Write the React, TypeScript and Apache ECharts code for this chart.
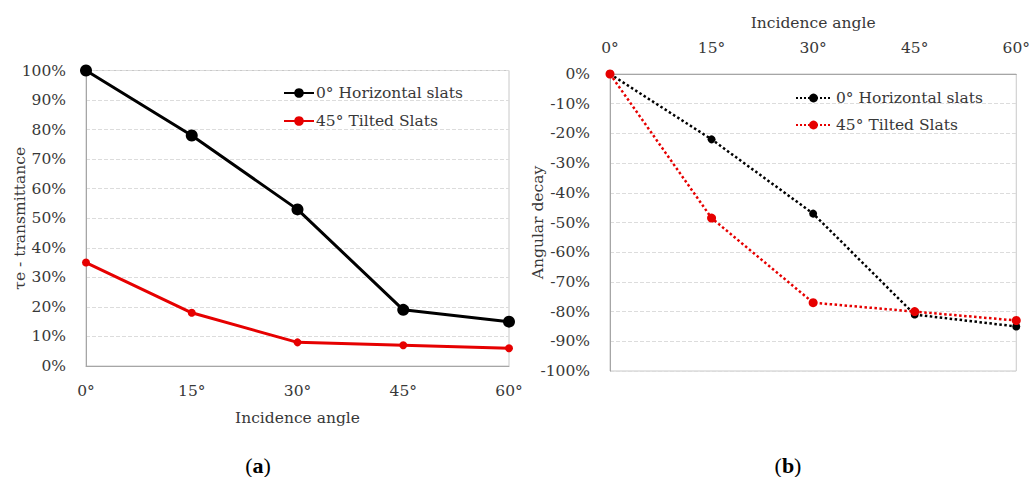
import React, { useEffect, useRef } from "react";
import * as echarts from "echarts";

const angles = ["0°", "15°", "30°", "45°", "60°"];
const seriesNames = ["0° Horizontal slats", "45° Tilted Slats"];
const transHorizontal = [100, 78, 53, 19, 15];
const transTilted = [35, 18, 8, 7, 6];
const decayHorizontal = [0, -22, -47, -81, -85];
const decayTilted = [0, -48.5, -77, -80, -83];

const FONT = "DejaVu Serif";
const TXT = "#383838";
const FS = 15.5;

export default function App() {
  const ref = useRef<HTMLDivElement>(null);
  useEffect(() => {
    document.body.style.margin = "0";
    const chart = echarts.init(ref.current!, null, { renderer: "svg" });
    const gridLine = { show: true, lineStyle: { color: "#dcdcdc", type: "dashed" as const, width: 1 } };
    const axisLine = { show: true, lineStyle: { color: "#a6a6a6", width: 1 } };
    const label = { color: TXT, fontFamily: FONT, fontSize: FS };
    const nameStyle = { color: TXT, fontFamily: FONT, fontSize: FS };
    chart.setOption({
      animation: false,
      textStyle: { fontFamily: FONT },
      grid: [
        { left: 86, right: 524, top: 70.5, bottom: 111, show: true, borderColor: "#c8c8c8", borderWidth: 1, containLabel: false },
        { left: 610, right: 14, top: 74, bottom: 106, show: true, borderColor: "#c8c8c8", borderWidth: 1, containLabel: false },
      ],
      xAxis: [
        {
          type: "category", gridIndex: 0, data: angles, boundaryGap: false,
          axisLine, axisTick: { show: false }, axisLabel: { ...label, margin: 17 },
          name: "Incidence angle", nameLocation: "middle", nameGap: 44, nameTextStyle: nameStyle, nameMoveOverlap: false,
          splitLine: { show: false },
        },
        {
          type: "category", gridIndex: 1, data: angles, boundaryGap: false, position: "top",
          axisLine, axisTick: { show: false }, axisLabel: { ...label, margin: 18 },
          name: "Incidence angle", nameLocation: "middle", nameGap: 43, nameTextStyle: nameStyle, nameMoveOverlap: false,
          splitLine: { show: false },
        },
      ],
      yAxis: [
        {
          type: "value", gridIndex: 0, min: 0, max: 100, interval: 10,
          axisLine, axisTick: { show: false }, splitLine: gridLine,
          axisLabel: { ...label, formatter: "{value}%", margin: 20 },
          name: "τe - transmittance", nameLocation: "middle", nameGap: 58, nameTextStyle: nameStyle, nameMoveOverlap: false,
        },
        {
          type: "value", gridIndex: 1, min: -100, max: 0, interval: 10,
          axisLine, axisTick: { show: false }, splitLine: gridLine,
          axisLabel: { ...label, formatter: "{value}%", margin: 20 },
          name: "Angular decay", nameLocation: "middle", nameGap: 64, nameTextStyle: nameStyle, nameMoveOverlap: false,
        },
      ],
      legend: [
        {
          data: seriesNames, left: 283, top: 85, padding: 0, orient: "vertical", itemGap: 12, itemWidth: 30, itemHeight: 12,
          textStyle: { color: TXT, fontFamily: FONT, fontSize: FS, padding: [0, 0, 0, -3] },
        },
        {
          data: seriesNames.map((n) => "b:" + n), left: 795, top: 90, padding: 0, orient: "vertical", itemGap: 11, itemWidth: 35, itemHeight: 11,
          formatter: (n: string) => n.replace(/^b:/, ""),
          textStyle: { color: TXT, fontFamily: FONT, fontSize: FS },
        },
      ],
      series: [
        {
          name: seriesNames[0], type: "line", xAxisIndex: 0, yAxisIndex: 0, data: transHorizontal,
          symbol: "circle", symbolSize: 12, lineStyle: { color: "#000", width: 3 }, itemStyle: { color: "#000" },
        },
        {
          name: seriesNames[1], type: "line", xAxisIndex: 0, yAxisIndex: 0, data: transTilted,
          symbol: "circle", symbolSize: 8, lineStyle: { color: "#e60000", width: 3 }, itemStyle: { color: "#e60000" },
        },
        {
          name: "b:" + seriesNames[0], type: "line", xAxisIndex: 1, yAxisIndex: 1, data: decayHorizontal,
          symbol: "circle", symbolSize: 8, lineStyle: { color: "#000", width: 2.5, type: "dotted" }, itemStyle: { color: "#000" },
        },
        {
          name: "b:" + seriesNames[1], type: "line", xAxisIndex: 1, yAxisIndex: 1, data: decayTilted,
          symbol: "circle", symbolSize: 9, lineStyle: { color: "#e60000", width: 2.5, type: "dotted" }, itemStyle: { color: "#e60000" },
        },
      ],
      graphic: [
        {
          type: "text", x: 258, y: 465,
          style: {
            text: "({b|a})", fill: "#000", fontFamily: "Liberation Serif", fontSize: 22, align: "center", verticalAlign: "middle",
            rich: { b: { fontWeight: "bold", fontFamily: "Liberation Serif", fontSize: 22, fill: "#000" } },
          },
        },
        {
          type: "text", x: 788, y: 465,
          style: {
            text: "({b|b})", fill: "#000", fontFamily: "Liberation Serif", fontSize: 22, align: "center", verticalAlign: "middle",
            rich: { b: { fontWeight: "bold", fontFamily: "Liberation Serif", fontSize: 22, fill: "#000" } },
          },
        },
      ],
    });
    return () => chart.dispose();
  }, []);
  return <div ref={ref} style={{ width: 1033, height: 477 }} />;
}
